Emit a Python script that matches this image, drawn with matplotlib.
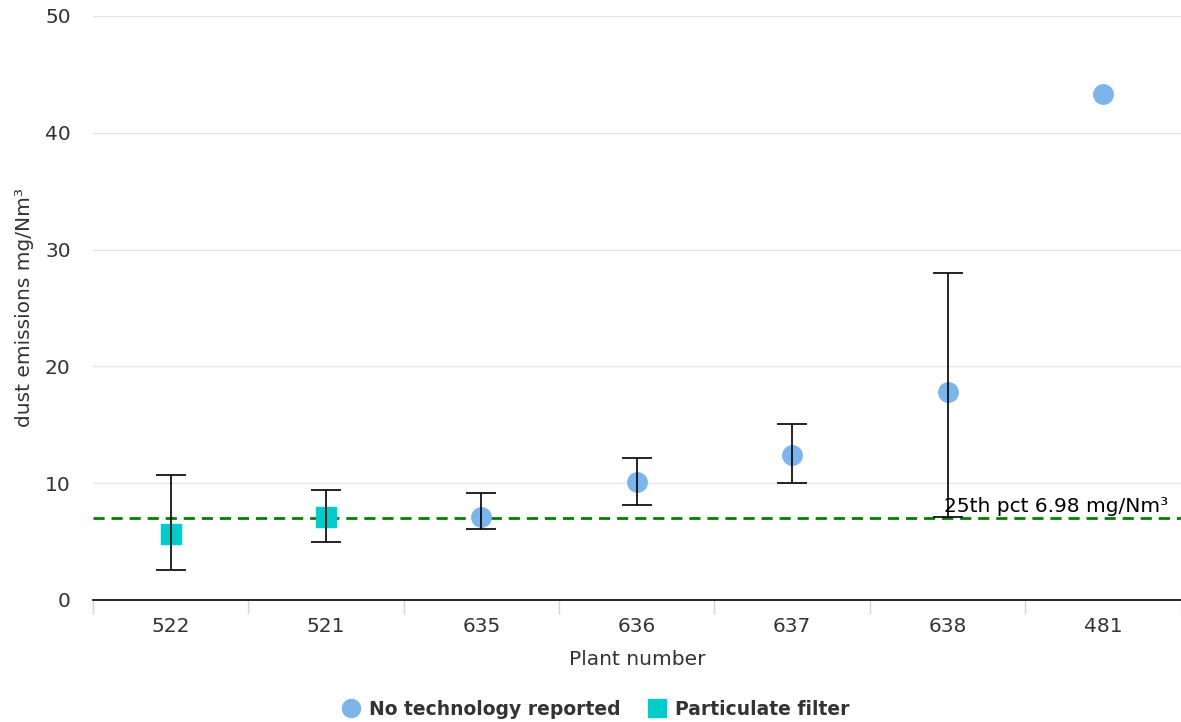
import numpy as np
import matplotlib.pyplot as plt
from matplotlib.lines import Line2D

plt.rcParams['font.family'] = ['DejaVu Sans']

plants = ["522", "521", "635", "636", "637", "638", "481"]
tech = ["filter", "filter", "none", "none", "none", "none", "none"]
values = [5.65, 7.1, 7.1, 10.1, 12.4, 17.8, 43.3]
err_low = [2.57, 4.95, 6.08, 8.13, 10.0, 7.1, None]
err_high = [10.7, 9.4, 9.15, 12.15, 15.07, 28.0, None]
pct25 = 6.98

fig = plt.figure(figsize=(11.81, 7.22), dpi=100)
ax = fig.add_axes([0.0787, 0.169, 0.921, 0.809])

x = np.arange(len(plants))
for i in x:
    if tech[i] == "filter":
        ax.plot(i, values[i], marker="s", ms=15, color="#00cccc", ls="none", zorder=3)
    else:
        ax.plot(i, values[i], marker="o", ms=14, color="#7cb5ec", ls="none", zorder=3)
    if err_low[i] is not None:
        ax.errorbar(i, values[i],
                    yerr=[[values[i] - err_low[i]], [err_high[i] - values[i]]],
                    fmt="none", ecolor="#000000", elinewidth=1.2, capsize=11,
                    capthick=1.2, zorder=4)

ax.axhline(pct25, color="green", ls="--", lw=2, dashes=(4, 2.5), zorder=2)
ax.text(6.42, pct25 + 0.25, "25th pct 6.98 mg/Nm³", ha="right", va="bottom",
        fontsize=14.5, color="#000000")

ax.set_xlim(-0.5, 6.5)
ax.set_ylim(0, 50)
ax.set_yticks([0, 10, 20, 30, 40, 50])
ax.set_xticks(x)
ax.set_xticklabels(plants)
ax.set_xticks(np.arange(-0.5, 6.6, 1), minor=True)
ax.tick_params(axis="x", which="major", length=0, pad=12, labelsize=14.5, labelcolor="#333333")
ax.tick_params(axis="x", which="minor", length=10, color="#ccd6eb", width=1)
ax.tick_params(axis="y", length=0, pad=16, labelsize=14.5, labelcolor="#333333")
ax.grid(axis="y", color="#e6e6e6", lw=1)
ax.set_axisbelow(True)
for s in ["top", "right", "left"]:
    ax.spines[s].set_visible(False)
ax.spines["bottom"].set_color("#000000")
ax.spines["bottom"].set_linewidth(1.2)

ax.set_xlabel("Plant number", fontsize=14.5, color="#333333", labelpad=10)
ax.set_ylabel("dust emissions mg/Nm³", fontsize=14.5, color="#333333", labelpad=8)

handles = [
    Line2D([], [], marker="o", ms=13, color="#7cb5ec", ls="none"),
    Line2D([], [], marker="s", ms=13, color="#00cccc", ls="none"),
]
fig.legend(handles, ["No technology reported", "Particulate filter"],
           loc="center", bbox_to_anchor=(0.503, 0.018), ncol=2, frameon=False,
           prop={"weight": "bold", "size": 13.5}, handletextpad=0.3,
           handlelength=1.3, columnspacing=1.3, labelcolor="#333333")

fig.savefig("out.png", dpi=100)
